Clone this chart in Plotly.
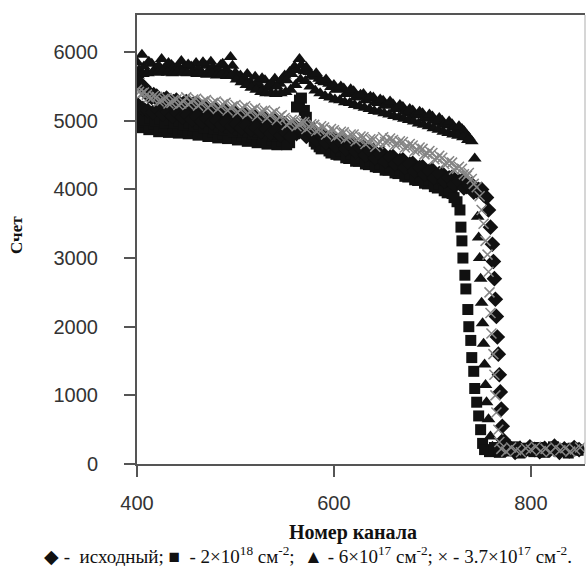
import plotly.graph_objects as go

# ---------------- data (channel number -> counts) ----------------
# 6x10^17 cm^-2 (triangles)
tri_a_x = list(range(400, 745, 5))
tri_a_y = [5850, 5960, 5700, 5830, 5760, 5900, 5760, 5810, 5740, 5870,
           5700, 5790, 5840, 5690, 5800, 5860, 5720, 5810, 5740, 5930,
           5700, 5660, 5600, 5560, 5640, 5500, 5590, 5520, 5610, 5540,
           5660, 5710, 5790, 5900, 5720, 5710, 5640, 5610, 5560, 5540,
           5520, 5460, 5470, 5400, 5430, 5350, 5390, 5320, 5340, 5260,
           5290, 5220, 5240, 5170, 5200, 5110, 5150, 5080, 5110, 5030,
           5060, 4970, 5000, 4930, 4950, 4870, 4880, 4790, 4700]
tri_b_x = list(range(402, 742, 5))
tri_b_y = [5740, 5790, 5860, 5720, 5800, 5750, 5840, 5780, 5790, 5760,
           5820, 5730, 5760, 5850, 5710, 5780, 5750, 5830, 5720, 5800,
           5640, 5590, 5680, 5520, 5560, 5620, 5480, 5550, 5500, 5600,
           5590, 5680, 5740, 5810, 5780, 5660, 5690, 5580, 5600, 5490,
           5450, 5500, 5390, 5460, 5340, 5380, 5300, 5350, 5270, 5310,
           5220, 5280, 5170, 5230, 5130, 5170, 5080, 5130, 5040, 5090,
           5000, 5040, 4950, 4990, 4900, 4920, 4850, 4760]
tri_c_x = list(range(401, 741, 5))
tri_c_y = [5660, 5680, 5690, 5710, 5700, 5720, 5700, 5690, 5710, 5700,
           5690, 5700, 5680, 5700, 5670, 5690, 5660, 5680, 5650, 5660,
           5600, 5560, 5520, 5480, 5450, 5420, 5400, 5400, 5390, 5400,
           5420, 5450, 5520, 5600, 5580, 5500, 5440, 5400, 5360, 5340,
           5310, 5300, 5270, 5260, 5230, 5210, 5190, 5170, 5140, 5130,
           5110, 5090, 5070, 5050, 5030, 5010, 4990, 4960, 4940, 4920,
           4890, 4870, 4840, 4820, 4800, 4780, 4760, 4720]
tri_drop_x = [743, 745, 746, 747, 748, 749, 750, 751, 752, 753, 754, 755, 757, 759, 761]
tri_drop_y = [4450, 4000, 3600, 3300, 3000, 2700, 2350, 2050, 1750, 1450, 1150, 900, 650, 400, 250]
tri_tail_x = list(range(764, 851, 5))
tri_tail_y = [230, 190, 250, 170, 220, 260, 180, 210, 240, 170, 230, 200, 260, 180, 220, 190, 250, 210]

# 3.7x10^17 cm^-2 (crosses)
crs_a_x = list(range(400, 750, 5))
crs_a_y = [5450, 5400, 5380, 5330, 5350, 5290, 5330, 5260, 5310, 5250,
           5340, 5270, 5320, 5250, 5300, 5230, 5280, 5210, 5260, 5190,
           5230, 5160, 5210, 5130, 5180, 5110, 5150, 5080, 5130, 5060,
           5040, 4970, 5010, 4940, 4980, 4910, 4940, 4870, 4900, 4830,
           4860, 4790, 4830, 4760, 4800, 4730, 4760, 4690, 4730, 4660,
           4760, 4700, 4720, 4660, 4690, 4620, 4640, 4570, 4590, 4520,
           4530, 4450, 4460, 4380, 4390, 4300, 4300, 4200, 4150, 4030]
crs_b_x = list(range(402, 747, 5))
crs_b_y = [5420, 5410, 5340, 5360, 5280, 5320, 5250, 5300, 5230, 5280,
           5240, 5310, 5220, 5280, 5190, 5260, 5170, 5240, 5150, 5210,
           5120, 5190, 5100, 5160, 5070, 5140, 5040, 5110, 5010, 5080,
           4940, 5010, 4920, 4980, 4880, 4950, 4850, 4920, 4800, 4880,
           4770, 4840, 4740, 4800, 4700, 4770, 4660, 4730, 4620, 4690,
           4690, 4740, 4650, 4700, 4610, 4660, 4560, 4610, 4510, 4560,
           4440, 4490, 4370, 4410, 4290, 4330, 4220, 4240, 4080]
crs_drop_x = [748, 750, 752, 754, 756, 757, 758, 759, 760, 762, 763, 764, 765, 767, 768]
crs_drop_y = [3900, 3700, 3500, 3250, 3050, 2800, 2500, 2200, 1900, 1600, 1300, 1000, 750, 500, 320]
crs_tail_x = list(range(770, 851, 5))
crs_tail_y = [220, 180, 240, 200, 170, 230, 210, 250, 190, 220, 170, 240, 200, 230, 180, 210, 240]

# original (diamonds)
dia_a_x = list(range(400, 760, 5))
dia_a_y = [5580, 5500, 5440, 5340, 5360, 5280, 5330, 5240, 5300, 5220,
           5280, 5190, 5250, 5150, 5210, 5120, 5180, 5090, 5150, 5060,
           5120, 5030, 5090, 5000, 5060, 4970, 5030, 4940, 5000, 4910,
           4960, 4870, 4930, 4840, 4900, 4800, 4850, 4750, 4790, 4700,
           4740, 4650, 4700, 4610, 4660, 4570, 4620, 4520, 4570, 4480,
           4520, 4430, 4480, 4390, 4430, 4340, 4380, 4290, 4330, 4240,
           4280, 4190, 4230, 4140, 4180, 4090, 4130, 4040, 4070, 3980,
           4000, 3880]
dia_b_x = list(range(402, 757, 5))
dia_b_y = [5560, 5490, 5360, 5380, 5290, 5310, 5240, 5280, 5200, 5250,
           5190, 5240, 5140, 5200, 5100, 5160, 5070, 5130, 5040, 5100,
           5010, 5070, 4980, 5040, 4950, 5010, 4920, 4970, 4880, 4940,
           4850, 4900, 4810, 4870, 4770, 4820, 4720, 4780, 4680, 4730,
           4630, 4690, 4590, 4640, 4550, 4600, 4500, 4560, 4460, 4510,
           4410, 4470, 4370, 4420, 4320, 4370, 4270, 4320, 4220, 4270,
           4170, 4230, 4120, 4170, 4070, 4120, 4020, 4060, 3960, 4000, 3920]
dia_c_x = list(range(401, 561, 5))
dia_c_y = [5230, 5180, 5150, 5120, 5160, 5100, 5130, 5070, 5110, 5050,
           5080, 5020, 5060, 4990, 5030, 4970, 5000, 4940, 4980, 4920,
           4950, 4890, 4930, 4870, 4900, 4840, 4880, 4820, 4850, 4790,
           4830, 4770]
dia_drop_x = [757, 759, 761, 762, 763, 764, 765, 766, 767, 768, 769, 770, 771, 772]
dia_drop_y = [3700, 3450, 3200, 2950, 2700, 2400, 2150, 1850, 1600, 1300, 1050, 800, 550, 350]
dia_tail_x = list(range(774, 851, 5))
dia_tail_y = [200, 240, 170, 220, 190, 250, 210, 180, 230, 200, 260, 170, 220, 190, 240, 210]

# 2x10^18 cm^-2 (squares)
sq_a_x = list(range(400, 730, 5))
sq_a_y = [4980, 4900, 5020, 4920, 4960, 4880, 4940, 4860, 4930, 4870,
          4910, 4840, 4900, 4820, 4880, 4800, 4860, 4780, 4830, 4770,
          4810, 4740, 4790, 4720, 4770, 4700, 4760, 4690, 4750, 4680,
          4740, 4680, 4900, 5300, 5150, 4900, 4700, 4620, 4640, 4560,
          4580, 4500, 4530, 4450, 4480, 4410, 4430, 4360, 4390, 4320,
          4340, 4280, 4300, 4230, 4250, 4180, 4200, 4130, 4150, 4080,
          4100, 4020, 4030, 3950, 3940, 3820]
sq_b_x = list(range(402, 727, 5))
sq_b_y = [4900, 4980, 4870, 4950, 4840, 4910, 4830, 4900, 4820, 4880,
          4810, 4870, 4790, 4850, 4770, 4830, 4750, 4810, 4740, 4790,
          4720, 4780, 4700, 4760, 4680, 4740, 4660, 4720, 4650, 4710,
          4650, 4800, 5200, 5330, 5050, 4800, 4660, 4590, 4600, 4530,
          4510, 4560, 4460, 4510, 4410, 4460, 4370, 4410, 4330, 4370,
          4280, 4330, 4240, 4280, 4190, 4230, 4140, 4180, 4090, 4130,
          4040, 4080, 3980, 3990, 3880]
sq_c_x = list(range(403, 558, 5))
sq_c_y = [5060, 5010, 5040, 4990, 5030, 4970, 5010, 4960, 4990, 4940,
          4970, 4920, 4950, 4900, 4930, 4880, 4910, 4860, 4890, 4840,
          4870, 4830, 4850, 4810, 4840, 4790, 4820, 4780, 4800, 4770,
          4790]
sq_drop_x = [728, 729, 730, 731, 733, 734, 736, 737, 739, 740, 742, 743, 745, 747, 749, 751]
sq_drop_y = [3700, 3450, 3250, 3000, 2750, 2550, 2250, 2000, 1800, 1550, 1350, 1100, 900, 700, 500, 300]
sq_tail_x = list(range(753, 850, 5))
sq_tail_y = [210, 180, 240, 170, 220, 190, 250, 160, 230, 200, 180, 240, 170, 210, 250, 190, 220, 160, 230, 200]

x_ticks = [400, 600, 800]
y_ticks = [0, 1000, 2000, 3000, 4000, 5000, 6000]

NB = "\u00a0"
legend_text = ("◆ -" + NB * 2 + "исходный;" + NB + "■" + NB * 2 + "- 2×10<sup>18</sup>" + NB + "см<sup>-2</sup>;" + NB * 2 +
               "▲ - 6×10<sup>17</sup>" + NB + "см<sup>-2</sup>;" + NB + "× - 3.7×10<sup>17</sup>" + NB + "см<sup>-2</sup>.")

# ---------------- figure ----------------
fig = go.Figure()

def add(xs, ys, symbol, size, color, lw=0):
    fig.add_trace(go.Scatter(
        x=xs, y=ys, mode="markers",
        marker=dict(symbol=symbol, size=size, color=color,
                    line=dict(width=lw, color=color)),
        showlegend=False, hoverinfo="x+y"))

add(tri_a_x + tri_b_x + tri_c_x + tri_drop_x + tri_tail_x,
    tri_a_y + tri_b_y + tri_c_y + tri_drop_y + tri_tail_y, "triangle-up", 12, "#111111")
add(sq_a_x + sq_b_x + sq_c_x + sq_drop_x + sq_tail_x,
    sq_a_y + sq_b_y + sq_c_y + sq_drop_y + sq_tail_y, "square", 11, "#111111")
add(dia_a_x + dia_b_x + dia_c_x + dia_drop_x + dia_tail_x,
    dia_a_y + dia_b_y + dia_c_y + dia_drop_y + dia_tail_y, "diamond", 12, "#111111")
add(crs_a_x + crs_b_x + crs_drop_x + crs_tail_x,
    crs_a_y + crs_b_y + crs_drop_y + crs_tail_y, "x-thin", 10, "#858585", lw=1.5)

axis_common = dict(showgrid=False, zeroline=False, showline=True,
                   linecolor="#555555", linewidth=2, ticks="outside",
                   ticklen=11, tickwidth=2, tickcolor="#555555",
                   tickfont=dict(family="Liberation Sans, Arial", size=20, color="#333333"))

fig.update_layout(
    width=587, height=566,
    margin=dict(l=137, r=2, t=15, b=102),
    paper_bgcolor="white", plot_bgcolor="white",
    xaxis=dict(range=[400, 855], tickvals=x_ticks, mirror=True,
               ticklabelstandoff=9, **axis_common),
    yaxis=dict(range=[0, 6540], tickvals=y_ticks,
               ticklabelstandoff=22, **axis_common),
)

# light right border
fig.add_shape(type="line", xref="paper", yref="paper", x0=1, x1=1, y0=0, y1=1,
              line=dict(color="#c8c8c8", width=1.5))

fig.add_annotation(text="<b>Номер канала</b>", xref="paper", yref="paper",
                   x=(353 - 137) / 448, y=-(532 - 464) / 449, xanchor="center", yanchor="middle",
                   showarrow=False, font=dict(family="Liberation Serif, Times New Roman", size=20, color="#111"))
fig.add_annotation(text="<b>Счет</b>", xref="paper", yref="paper",
                   x=-(137 - 17) / 448, y=(464 - 235) / 449, xanchor="center", yanchor="middle",
                   textangle=-90, showarrow=False,
                   font=dict(family="Liberation Serif, Times New Roman", size=17, color="#111"))
fig.add_annotation(text=legend_text, xref="paper", yref="paper",
                   x=(308 - 137) / 448, y=-(555 - 464) / 449, xanchor="center", yanchor="middle",
                   showarrow=False,
                   font=dict(family="Liberation Serif, Times New Roman", size=19, color="#111"))

fig.write_html("out.html", config={"displayModeBar": False},
               post_script="document.body.style.margin='0';")
